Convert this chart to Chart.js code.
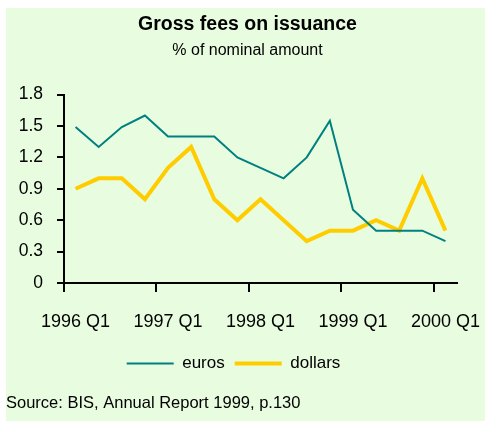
<!DOCTYPE html>
<html>
<head>
<meta charset="utf-8">
<script src="https://cdn.jsdelivr.net/npm/chart.js@4/dist/chart.umd.min.js"></script>
<style>
  html, body { margin: 0; padding: 0; background: #ffffff; }
  #wrap { position: relative; width: 485px; height: 421px; }
  canvas { display: block; }
</style>
</head>
<body>
<div id="wrap"><canvas id="fees" width="485" height="421"></canvas></div>
<script>
// Quarterly gross fees on international issuance, % of nominal amount
const quarters = [
  '1996 Q1', '1996 Q2', '1996 Q3', '1996 Q4',
  '1997 Q1', '1997 Q2', '1997 Q3', '1997 Q4',
  '1998 Q1', '1998 Q2', '1998 Q3', '1998 Q4',
  '1999 Q1', '1999 Q2', '1999 Q3', '1999 Q4',
  '2000 Q1'
];
const euros   = [1.49, 1.3, 1.49, 1.6, 1.4, 1.4, 1.4, 1.2, 1.1, 1.0, 1.2, 1.55, 0.7, 0.5, 0.5, 0.5, 0.4];
const dollars = [0.9, 1.0, 1.0, 0.8, 1.1, 1.3, 0.8, 0.6, 0.8, 0.6, 0.4, 0.5, 0.5, 0.6, 0.5, 1.0, 0.5];
const yTicks  = [0, 0.3, 0.6, 0.9, 1.2, 1.5, 1.8];

const chartTitle = 'Gross fees on issuance';
const chartSubtitle = '% of nominal amount';
const sourceNote = 'Source: BIS, Annual Report 1999, p.130';

const FONT = '"Liberation Sans", Arial, Helvetica, sans-serif';

// Light green panel behind the whole figure
const panel = {
  id: 'panel',
  beforeDraw(chart) {
    const ctx = chart.ctx;
    ctx.save();
    ctx.fillStyle = '#e8fce0';
    ctx.fillRect(6, 8, chart.width - 6, chart.height - 8);
    ctx.restore();
  }
};

// Heading sits right of the plot's centre, legend row slightly left of it
const boxShift = {
  id: 'boxShift',
  afterLayout(chart) {
    const move = (box, dx) => { if (box) { box.left += dx; box.right += dx; } };
    move(chart.titleBlock, 12);
    move(chart.boxes.find(b => b !== chart.titleBlock && b.options && b.options.text === chartSubtitle), 12);
    move(chart.legend, -2);
  }
};

// Source line under the legend
const source = {
  id: 'source',
  afterDraw(chart) {
    const ctx = chart.ctx;
    ctx.save();
    ctx.font = '16.5px ' + FONT;
    ctx.fillStyle = '#000000';
    ctx.textAlign = 'left';
    ctx.textBaseline = 'alphabetic';
    ctx.fillText(sourceNote, 6, 408);
    ctx.restore();
  }
};

new Chart(document.getElementById('fees'), {
  type: 'line',
  data: {
    labels: quarters,
    datasets: [
      {
        label: 'euros',
        data: euros,
        borderColor: '#008080',
        backgroundColor: '#008080',
        borderWidth: 2,
        pointRadius: 0,
        tension: 0,
        fill: false
      },
      {
        label: 'dollars',
        data: dollars,
        borderColor: '#ffcc00',
        backgroundColor: '#ffcc00',
        borderWidth: 4,
        pointRadius: 0,
        tension: 0,
        fill: false
      }
    ]
  },
  options: {
    responsive: false,
    devicePixelRatio: 1,
    animation: false,
    layout: { padding: { left: 14, right: 28, top: 8, bottom: 39 } },
    plugins: {
      title: {
        display: true,
        text: chartTitle,
        color: '#000000',
        font: { family: FONT, size: 19.5, weight: 'bold', lineHeight: 1.2 },
        padding: { top: 5, bottom: 0 }
      },
      subtitle: {
        display: true,
        text: chartSubtitle,
        color: '#000000',
        font: { family: FONT, size: 16, weight: 'normal', lineHeight: 1.2 },
        padding: { top: 5, bottom: 34 }
      },
      legend: {
        display: true,
        position: 'bottom',
        labels: {
          color: '#000000',
          font: { family: FONT, size: 17 },
          usePointStyle: true,
          pointStyle: 'line',
          pointStyleWidth: 47,
          padding: 10
        }
      },
      tooltip: { enabled: false }
    },
    scales: {
      x: {
        type: 'category',
        offset: true,
        grid: {
          offset: true,
          drawOnChartArea: false,
          drawTicks: true,
          tickLength: 9,
          lineWidth: 2,
          color: (c) => (c.index !== undefined && c.index % 4 === 0) ? '#000000' : 'rgba(0,0,0,0)'
        },
        border: { display: true, color: '#000000', width: 2 },
        ticks: {
          autoSkip: false,
          maxRotation: 0,
          minRotation: 0,
          padding: 19,
          color: '#000000',
          font: { family: FONT, size: 18 },
          callback: (v, i) => (i % 4 === 0 ? quarters[i] : '')
        },
        afterFit: (s) => { s.height = 62; s.paddingLeft = 0; s.paddingRight = 0; }
      },
      y: {
        min: yTicks[0],
        max: yTicks[yTicks.length - 1],
        afterBuildTicks: (s) => { s.ticks = yTicks.map(v => ({ value: v })); },
        grid: {
          drawOnChartArea: false,
          drawTicks: true,
          tickLength: 7,
          lineWidth: 2,
          color: '#000000'
        },
        border: { display: true, color: '#000000', width: 2 },
        ticks: {
          padding: 14,
          color: '#000000',
          font: { family: FONT, size: 17.5 },
          callback: (v) => (v === 0 ? '0' : Number(v).toFixed(1))
        },
        afterFit: (s) => { s.width = 50; }
      }
    }
  },
  plugins: [panel, boxShift, source]
});
</script>
</body>
</html>
